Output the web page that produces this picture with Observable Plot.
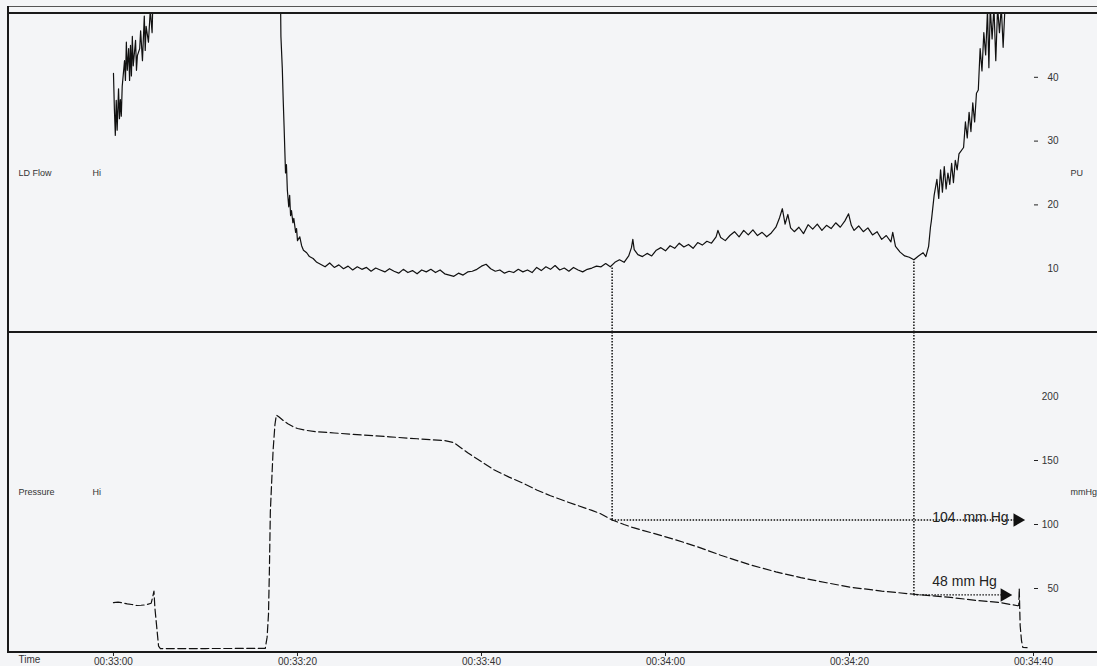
<!DOCTYPE html>
<html><head><meta charset="utf-8">
<script src="https://cdn.jsdelivr.net/npm/d3@7"></script>
<script src="https://cdn.jsdelivr.net/npm/@observablehq/plot@0.6"></script>
<style>
html,body{margin:0;padding:0;background:#f4f5f7;}
#chart{position:relative;width:1097px;height:666px;overflow:hidden;background:#f4f5f7;font-family:"Liberation Sans",Arial,sans-serif;}
#chart svg{position:absolute;left:0;}
.ln{position:absolute;background:#1a1a1a;}
</style></head><body><div id="chart"></div>
<script>
// ---- time axis (seconds after 00:33:00) ----
const tickSeconds = [0, 20, 40, 60, 80, 100];
const tickLabels = ["00:33:00", "00:33:20", "00:33:40", "00:34:00", "00:34:20", "00:34:40"];
const timeDomain = [-11.41, 100];

// ---- LD Flow (PU) ----
const flowTicks = [10, 20, 30, 40];
const flowDashTicks = [20, 30, 40];
const flowTime = [0.0,0.1,0.2,0.3,0.4,0.55,0.65,0.75,0.85,0.95,1.2,1.3,1.4,1.5,1.65,1.75,1.85,1.95,2.05,2.15,2.3,2.4,2.5,2.6,2.85,2.95,3.15,3.35,3.45,3.55,3.8,4.0,4.2,4.3,
  11,
  18.15,18.2,18.35,18.45,18.55,18.7,18.8,18.9,19.05,19.15,19.25,19.35,19.5,19.6,19.8,19.9,20.0,20.25,20.45,20.65,21.0,21.3,21.7,22.1,22.5,
  23.0,23.5,24.0,24.5,25.0,25.5,26.0,26.5,27.0,27.5,28.0,28.5,29.0,29.5,30.0,30.5,31.0,31.5,32.0,32.5,33.0,33.5,34.0,34.5,35.0,35.5,36.0,36.5,37.0,37.5,
  38.0,38.5,39.0,39.5,40.0,40.5,41.0,41.5,42.0,42.5,43.0,43.5,44.0,44.5,45.0,45.5,46.0,46.5,47.0,47.5,48.0,48.5,49.0,49.5,50.0,50.5,51.0,51.5,52.0,52.5,53.0,53.5,
  54.0,54.5,55.0,55.5,56.0,56.3,56.45,56.6,57.0,57.5,58.0,58.5,59.0,59.5,60.0,60.5,61.0,61.5,62.0,62.5,63.0,63.5,64.0,64.5,65.0,65.5,65.7,66.0,66.5,67.0,67.5,68.0,68.5,69.0,69.5,70.0,70.5,71.0,71.5,72.0,72.4,72.7,73.0,73.3,73.6,74.0,74.5,75.0,75.5,76.0,76.5,77.0,77.5,78.0,78.5,79.0,79.5,79.9,80.2,80.5,81.0,81.5,82.0,82.5,83.0,83.5,84.0,84.5,84.7,85.0,85.5,86.0,86.5,87.0,87.5,88.0,88.3,88.6,88.8,88.9,
  89.2,89.5,89.7,89.9,90.1,90.3,90.5,90.7,90.9,91.1,91.3,91.5,91.7,91.9,92.4,92.6,92.8,93.0,93.2,93.4,93.6,93.8,94.0,94.2,94.4,94.6,94.8,95.0,95.15,95.3,95.5,95.7,95.9,96.1,96.3,96.5,96.7,96.9];
const flowPU = [40.6,35.0,30.9,36.4,31.7,38.2,33.5,36.5,33.9,38.6,42.6,39.5,45.5,41.1,44.5,39.5,45.0,40.2,46.4,41.8,44.2,45.8,41.1,43.4,44.5,47.3,42.6,49.6,44.2,48.0,45.5,50.5,47.0,53,
  NaN,
  53,46.4,41.4,36.4,32.0,25.0,26.3,22.3,19.7,21.5,18.3,19.1,17.2,17.9,15.7,16.3,14.4,15.0,13.6,12.9,12.5,11.9,11.6,11.0,10.7,
  10.3,10.9,10.2,10.6,10.0,10.4,9.8,10.3,9.9,10.2,9.6,10.1,9.8,9.5,10.0,9.6,9.3,9.9,9.4,9.7,9.2,9.8,9.5,9.9,9.4,9.8,9.2,9.0,8.8,9.3,
  9.0,9.5,9.6,9.9,10.4,10.7,10.0,9.6,9.8,9.3,9.6,9.4,9.9,9.5,9.8,9.4,10.2,9.7,10.3,9.9,10.5,9.8,10.1,9.6,10.2,9.8,9.5,9.9,10.1,10.4,10.3,10.8,
  10.3,11.0,11.4,11.0,12.0,13.3,14.6,13.0,12.2,11.9,12.4,12.0,12.9,13.3,12.8,13.6,13.2,14.0,13.4,13.8,13.2,14.1,13.7,14.3,14.0,15.0,16.0,14.9,14.4,15.2,15.8,15.0,16.0,15.3,16.1,15.2,15.7,15.0,15.6,16.5,18.0,19.4,17.0,18.5,16.4,15.8,16.5,15.5,16.9,16.2,17.0,16.0,16.8,16.3,17.2,16.5,17.5,18.6,16.8,16.0,16.7,15.8,16.4,15.3,15.8,14.6,15.2,14.2,15.7,13.5,12.6,12.0,11.8,11.4,12.0,12.5,11.9,13.5,16.5,17.5,
  21.5,24.0,21.0,25.5,22.0,26.0,22.5,25.0,23.2,26.5,23.5,27.0,25.5,28.0,29.0,33.0,30.5,34.5,31.5,36.0,33.0,37.5,38.0,44.5,41.0,47.0,43.5,50.5,41.5,51,46.0,51,42.6,51,47.0,51,44.7,51];

// ---- Pressure (mmHg) ----
const pressureTicks = [50, 100, 150, 200];
const pressureDashTicks = [50, 100, 150];
const pressureTime = [0.0,0.5,1.0,1.5,2.0,2.5,3.0,3.5,4.1,4.25,4.4,4.5,4.7,4.9,5.1,10,16.5,16.7,16.85,16.95,17.05,17.35,17.55,17.7,18.0,18.5,19.0,19.5,20.0,21,22,24,27,30,33,36,37,38.5,40,41.3,43,44.6,46,47.5,49,50.4,52,52.9,54.2,55.5,56.5,58.5,60.2,62,63.5,66,69.2,72,74.7,77.5,80.1,83.5,87,91,94,96.4,98.3,98.4,98.45,98.55,98.7,98.85,99.3];
const pressureMmHg = [39.0,39.4,38.8,38.0,37.5,36.7,36.9,37.2,38.5,43.0,48.0,35.0,20.0,5.0,3.1,3.1,3.2,12,30,65,110,158,178,185.5,184,181,178.5,176.5,175,173.5,172.5,171.5,170,168.5,167,165.5,164,156,149,143,137,132,127,122.5,118.5,115,111,108.6,103.5,100,97.5,93.5,90,86,82.5,76,68.5,63,58.5,54.5,51,48,45.5,43,40.5,39,36.5,37,50,21,9,3.9,3.8];

// ---- annotations ----
const markTime = [54.2, 87.0];
const markFlow = [10.3, 11.4];
const markPressure = [103.5, 45];
const arrowTip = [98.9, 97.5];
const arrowLabels = ["104  mm Hg", "48 mm Hg"];
const labelTime = [89.0, 89.0];

const flowRows = flowTime.map((t, i) => ({t, v: flowPU[i]}));
const pressureRows = pressureTime.map((t, i) => ({t, v: pressureMmHg[i]}));
const annot = markTime.map((t, i) => ({t, flow: markFlow[i], pressure: markPressure[i], tip: arrowTip[i], label: arrowLabels[i], lt: labelTime[i]}));

const W = 1097, ML = 8, MR = 64;
const font = {fontFamily: "'Liberation Sans', Arial, sans-serif", fontSize: "10px", background: "transparent", color: "#2a2a2a", overflow: "visible"};
const dotted = {stroke: "#111", strokeWidth: 1.5, strokeDasharray: "1.5,1.5"};

const flowPlot = Plot.plot({
  width: W, height: 333, marginLeft: ML, marginRight: MR, marginTop: 13, marginBottom: 1,
  style: font,
  x: {domain: timeDomain, axis: null},
  y: {domain: [0, 50]},
  marks: [
    Plot.line(flowRows, {x: "t", y: "v", stroke: "#111", strokeWidth: 1.2, clip: true}),
    Plot.ruleX(annot, {x: "t", y1: 0, y2: "flow", ...dotted}),
    Plot.axisY(flowDashTicks, {anchor: "right", tickSize: 4, tickFormat: () => "", label: null, stroke: "#222"}),
    Plot.text(flowTicks, {y: d => d, text: d => String(d), frameAnchor: "right", dx: 25, textAnchor: "end", fill: "#333", fontSize: 10}),
    Plot.text(["PU"], {frameAnchor: "right", dx: 37, textAnchor: "start", fill: "#333", fontSize: 9}),
    Plot.text(["LD Flow"], {frameAnchor: "left", dx: 10, textAnchor: "start", fill: "#333", fontSize: 9}),
    Plot.text(["Hi"], {frameAnchor: "left", dx: 84, textAnchor: "start", fill: "#333", fontSize: 9})
  ]
});

const pressurePlot = Plot.plot({
  width: W, height: 334, marginLeft: ML, marginRight: MR, marginTop: 0, marginBottom: 14,
  style: font,
  x: {domain: timeDomain},
  y: {domain: [0, 250]},
  marks: [
    Plot.line(pressureRows, {x: "t", y: "v", stroke: "#111", strokeWidth: 1.2, strokeDasharray: "8,3.5", clip: true}),
    Plot.ruleX(annot, {x: "t", y1: "pressure", y2: 250, ...dotted}),
    Plot.ruleY(annot, {y: "pressure", x1: "t", x2: "tip", ...dotted, strokeWidth: 1.3}),
    Plot.dot(annot, {x: "tip", y: "pressure", symbol: "triangle", rotate: 90, r: 5, fill: "#111", stroke: "none", dx: -6}),
    Plot.text(annot.slice(0, 1), {x: "lt", y: "pressure", text: "label", textAnchor: "start", lineAnchor: "bottom", dy: 2, fontSize: 14, fill: "#222"}),
    Plot.text(annot.slice(1, 2), {x: "lt", y: "pressure", text: "label", textAnchor: "start", lineAnchor: "bottom", dy: -9, fontSize: 14, fill: "#222"}),
    Plot.axisY(pressureDashTicks, {anchor: "right", tickSize: 4, tickFormat: () => "", label: null, stroke: "#222"}),
    Plot.text(pressureTicks, {y: d => d, text: d => String(d), frameAnchor: "right", dx: 25, textAnchor: "end", fill: "#333", fontSize: 10}),
    Plot.text(["mmHg"], {frameAnchor: "right", dx: 37, textAnchor: "start", fill: "#333", fontSize: 9}),
    Plot.text(["Pressure"], {frameAnchor: "left", dx: 10, textAnchor: "start", fill: "#333", fontSize: 9}),
    Plot.text(["Hi"], {frameAnchor: "left", dx: 84, textAnchor: "start", fill: "#333", fontSize: 9}),
    Plot.axisX(tickSeconds, {anchor: "bottom", tickSize: 4, tickPadding: 1, label: null, fontSize: 10,
      tickFormat: d => tickLabels[tickSeconds.indexOf(d)], fill: "#333", stroke: "#222"}),
    Plot.text(["Time"], {frameAnchor: "bottom-left", dx: 10, dy: 10, textAnchor: "start", fill: "#333", fontSize: 10})
  ]
});

const chart = document.getElementById("chart");
flowPlot.style.top = "0px";
pressurePlot.style.top = "332px";
chart.appendChild(flowPlot);
chart.appendChild(pressurePlot);
// frame lines
[[8, 6, 1089, 1, "#555"], [8, 12, 1089, 2, "#1a1a1a"], [7, 6, 2, 647, "#1a1a1a"], [8, 331, 1089, 2, "#1a1a1a"], [8, 651, 1089, 2, "#1a1a1a"]]
  .forEach(([l, t, w, h, c]) => {
    const d = document.createElement("div");
    d.className = "ln";
    Object.assign(d.style, {left: l + "px", top: t + "px", width: w + "px", height: h + "px", background: c});
    chart.appendChild(d);
  });
</script></body></html>
